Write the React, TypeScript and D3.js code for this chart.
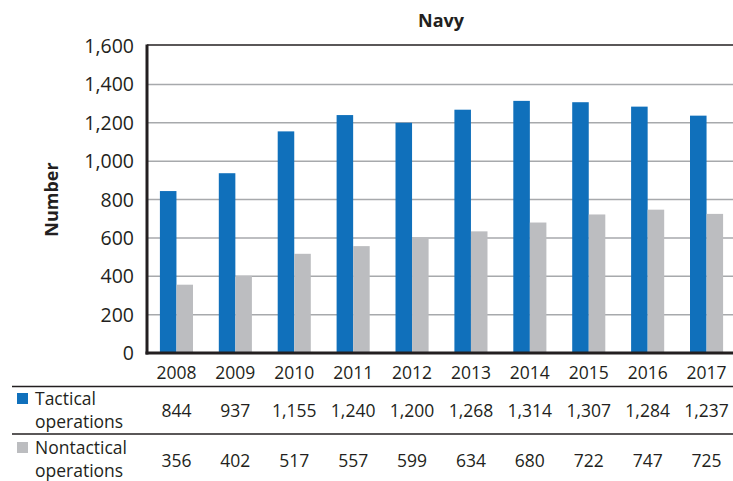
import { useEffect, useRef } from "react";
import * as d3 from "d3";

const years = ["2008", "2009", "2010", "2011", "2012", "2013", "2014", "2015", "2016", "2017"];
const tactical = [844, 937, 1155, 1240, 1200, 1268, 1314, 1307, 1284, 1237];
const nontactical = [356, 402, 517, 557, 599, 634, 680, 722, 747, 725];
const yTicks = [0, 200, 400, 600, 800, 1000, 1200, 1400, 1600];
const seriesNames = [["Tactical", "operations"], ["Nontactical", "operations"]];
const colors = ["#1070bb", "#bcbdc0"];

const W = 733,
  H = 481;
const margin = { top: 46, left: 147, bottom: 353, right: 736 };
const font = "'Open Sans', 'Noto Sans', sans-serif";

function App() {
  const svgRef = useRef(null);

  useEffect(() => {
    const svg = d3.select(svgRef.current);
    svg.selectAll("*").remove();

    const x = d3.scaleBand().domain(years).range([margin.left, margin.right]);
    const inner = d3
      .scaleBand()
      .domain(["t", "n"])
      .range([0, x.bandwidth()])
      .paddingInner(0)
      .paddingOuter(0.78);
    const y = d3.scaleLinear().domain([0, 1600]).range([margin.bottom, margin.top]);

    // gridlines
    svg
      .append("g")
      .selectAll("line")
      .data(yTicks.filter((d) => d > 0 && d < 1600))
      .enter()
      .append("line")
      .attr("x1", margin.left)
      .attr("x2", W)
      .attr("y1", (d) => y(d))
      .attr("y2", (d) => y(d))
      .attr("stroke", "#a7a9ac")
      .attr("stroke-width", 1.5);

    // top border
    svg
      .append("line")
      .attr("x1", margin.left)
      .attr("x2", W)
      .attr("y1", y(1600) - 1)
      .attr("y2", y(1600) - 1)
      .attr("stroke", "#231f20")
      .attr("stroke-width", 1.5);

    const groups = [tactical, nontactical];
    const keys = ["t", "n"];
    groups.forEach((vals, gi) => {
      svg
        .append("g")
        .selectAll("rect")
        .data(vals)
        .enter()
        .append("rect")
        .attr("x", (d, i) => (x(years[i]) as number) + (inner(keys[gi]) as number))
        .attr("width", inner.bandwidth())
        .attr("y", (d) => y(d))
        .attr("height", (d) => y(0) - y(d))
        .attr("fill", colors[gi]);
    });

    // axes lines
    svg
      .append("line")
      .attr("x1", margin.left)
      .attr("x2", margin.left)
      .attr("y1", y(1600) - 1.5)
      .attr("y2", y(0) + 1.5)
      .attr("stroke", "#231f20")
      .attr("stroke-width", 3);
    svg
      .append("line")
      .attr("x1", margin.left - 1.5)
      .attr("x2", W)
      .attr("y1", y(0))
      .attr("y2", y(0))
      .attr("stroke", "#231f20")
      .attr("stroke-width", 3);

    // y tick labels
    svg
      .append("g")
      .selectAll("text")
      .data(yTicks)
      .enter()
      .append("text")
      .attr("x", 134)
      .attr("y", (d) => y(d))
      .attr("dy", "0.36em")
      .attr("text-anchor", "end")
      .attr("font-family", font)
      .attr("font-size", 19.5)
      .attr("fill", "#231f20")
      .text((d) => d3.format(",")(d));

    // y label
    svg
      .append("text")
      .attr("transform", `translate(58,${(y(0) + y(1600)) / 2}) rotate(-90)`)
      .attr("text-anchor", "middle")
      .attr("font-family", font)
      .attr("font-weight", "bold")
      .attr("font-size", 18)
      .attr("fill", "#231f20")
      .text("Number");

    // title
    svg
      .append("text")
      .attr("x", 441)
      .attr("y", 27)
      .attr("text-anchor", "middle")
      .attr("font-family", font)
      .attr("font-weight", "bold")
      .attr("font-size", 18)
      .attr("fill", "#231f20")
      .text("Navy");

    // year labels
    svg
      .append("g")
      .selectAll("text")
      .data(years)
      .enter()
      .append("text")
      .attr("x", (d) => (x(d) as number) + x.bandwidth() / 2)
      .attr("y", 379)
      .attr("text-anchor", "middle")
      .attr("font-family", font)
      .attr("font-size", 17.5)
      .attr("fill", "#231f20")
      .text((d) => d);

    // table lines
    [386.5, 434].forEach((ly) => {
      svg
        .append("line")
        .attr("x1", 12)
        .attr("x2", W)
        .attr("y1", ly)
        .attr("y2", ly)
        .attr("stroke", "#231f20")
        .attr("stroke-width", 1.5);
    });

    // table rows
    const rowBase = [417, 467];
    const labelBase = [[405, 428], [454, 477]];
    groups.forEach((vals, gi) => {
      svg
        .append("rect")
        .attr("x", 17)
        .attr("y", labelBase[gi][0] - 12)
        .attr("width", 11)
        .attr("height", 11)
        .attr("fill", colors[gi]);
      seriesNames[gi].forEach((s, li) => {
        svg
          .append("text")
          .attr("x", 35)
          .attr("y", labelBase[gi][li])
          .attr("font-family", font)
          .attr("font-size", 17.5)
          .attr("fill", "#231f20")
          .text(s);
      });
      svg
        .append("g")
        .selectAll("text")
        .data(vals)
        .enter()
        .append("text")
        .attr("x", (d, i) => (x(years[i]) as number) + x.bandwidth() / 2)
        .attr("y", rowBase[gi])
        .attr("text-anchor", "middle")
        .attr("font-family", font)
        .attr("font-size", 17.5)
        .attr("fill", "#231f20")
        .text((d) => d3.format(",")(d));
    });
  }, []);

  return (
    <svg
      ref={svgRef}
      width={W}
      height={H}
      style={{ position: "absolute", left: 0, top: 0, background: "#fff" }}
    ></svg>
  );
}

export default App;
